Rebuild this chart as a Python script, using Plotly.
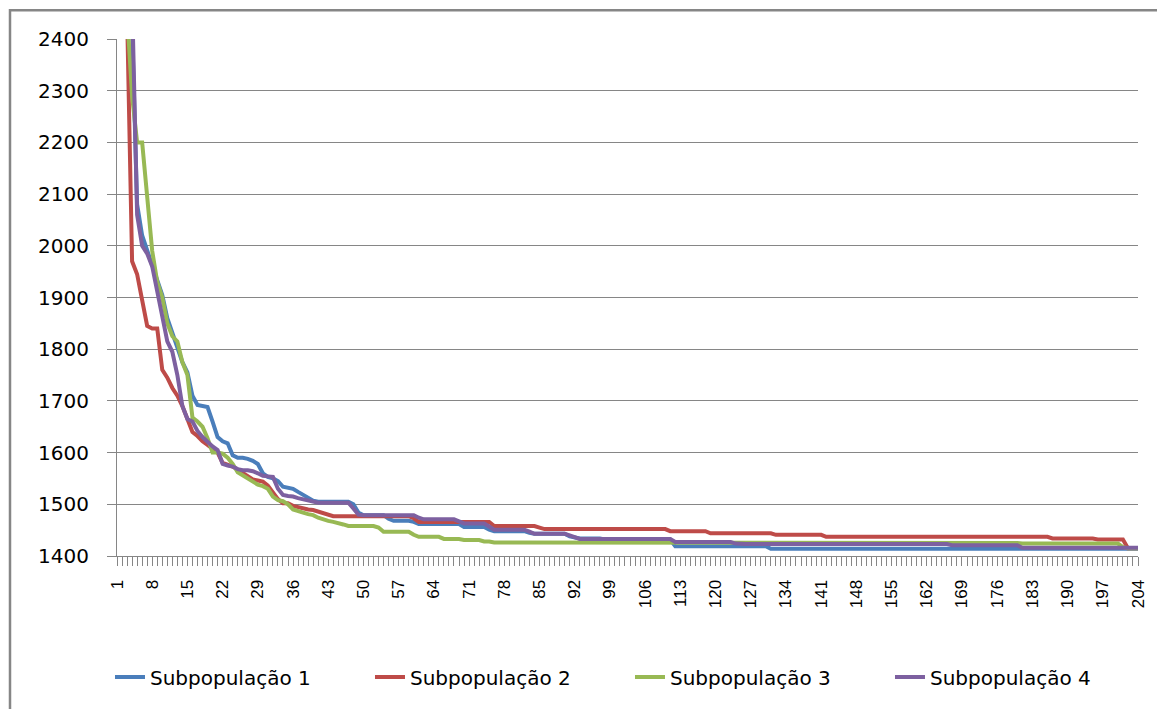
import plotly.graph_objects as go

# geracao (1..204)
geracao = list(range(1, 205))

subpop_1 = [
    3400, 3000, 2600, 2420, 2080, 2020, 1990, 1960, 1930, 1905, 1860, 1830, 1805, 1775, 1755, 1710, 1692, 1690, 1688, 1660,
    1630, 1622, 1618, 1595, 1590, 1590, 1588, 1584, 1578, 1560, 1553, 1550, 1545, 1534, 1532, 1530, 1524, 1518, 1512, 1507,
    1505, 1505, 1505, 1505, 1505, 1505, 1505, 1500, 1484, 1479, 1479, 1479, 1479, 1479, 1472, 1468, 1468, 1468, 1468, 1466,
    1462, 1462, 1462, 1462, 1462, 1462, 1462, 1462, 1462, 1456, 1456, 1456, 1456, 1456, 1451, 1448, 1448, 1448, 1448, 1448,
    1448, 1448, 1445, 1443, 1443, 1443, 1443, 1443, 1443, 1443, 1438, 1436, 1434, 1434, 1434, 1434, 1434, 1432, 1432, 1432,
    1432, 1432, 1432, 1432, 1432, 1432, 1432, 1432, 1432, 1432, 1432, 1419, 1419, 1419, 1419, 1419, 1419, 1419, 1419, 1419,
    1419, 1419, 1419, 1419, 1419, 1419, 1419, 1419, 1419, 1419, 1414, 1414, 1414, 1414, 1414, 1414, 1414, 1414, 1414, 1414,
    1414, 1414, 1414, 1414, 1414, 1414, 1414, 1414, 1414, 1414, 1414, 1414, 1414, 1414, 1414, 1414, 1414, 1414, 1414, 1414,
    1414, 1414, 1414, 1414, 1414, 1414, 1414, 1414, 1414, 1414, 1414, 1414, 1414, 1414, 1414, 1414, 1414, 1414, 1414, 1414,
    1414, 1414, 1414, 1414, 1414, 1414, 1414, 1414, 1414, 1414, 1414, 1414, 1414, 1414, 1414, 1414, 1414, 1414, 1414, 1414,
    1414, 1414, 1414, 1414,
]

subpop_2 = [
    3300, 2900, 2450, 1970, 1945, 1895, 1845, 1840, 1840, 1760, 1745, 1725, 1710, 1690, 1665, 1640, 1632, 1622, 1615, 1607,
    1600, 1580, 1577, 1573, 1567, 1560, 1553, 1548, 1546, 1544, 1536, 1522, 1510, 1502, 1502, 1497, 1494, 1492, 1490, 1489,
    1486, 1484, 1480, 1477, 1477, 1477, 1477, 1477, 1477, 1477, 1477, 1477, 1477, 1477, 1477, 1477, 1477, 1477, 1477, 1473,
    1466, 1466, 1466, 1466, 1466, 1466, 1466, 1466, 1466, 1466, 1466, 1466, 1466, 1466, 1466, 1458, 1458, 1458, 1458, 1458,
    1458, 1458, 1458, 1458, 1455, 1452, 1452, 1452, 1452, 1452, 1452, 1452, 1452, 1452, 1452, 1452, 1452, 1452, 1452, 1452,
    1452, 1452, 1452, 1452, 1452, 1452, 1452, 1452, 1452, 1452, 1448, 1448, 1448, 1448, 1448, 1448, 1448, 1448, 1444, 1444,
    1444, 1444, 1444, 1444, 1444, 1444, 1444, 1444, 1444, 1444, 1444, 1441, 1441, 1441, 1441, 1441, 1441, 1441, 1441, 1441,
    1441, 1437, 1437, 1437, 1437, 1437, 1437, 1437, 1437, 1437, 1437, 1437, 1437, 1437, 1437, 1437, 1437, 1437, 1437, 1437,
    1437, 1437, 1437, 1437, 1437, 1437, 1437, 1437, 1437, 1437, 1437, 1437, 1437, 1437, 1437, 1437, 1437, 1437, 1437, 1437,
    1437, 1437, 1437, 1437, 1437, 1437, 1434, 1434, 1434, 1434, 1434, 1434, 1434, 1434, 1434, 1432, 1432, 1432, 1432, 1432,
    1432, 1415, 1415, 1415,
]

subpop_3 = [
    3200, 2800, 2450, 2290, 2200, 2200, 2090, 1990, 1930, 1900, 1850, 1825, 1815, 1775, 1750, 1668, 1660, 1650, 1628, 1600,
    1600, 1598, 1590, 1578, 1562, 1556, 1550, 1544, 1538, 1535, 1530, 1515, 1508, 1506, 1500, 1490, 1486, 1484, 1481, 1479,
    1474, 1470, 1468, 1466, 1464, 1461, 1458, 1458, 1458, 1458, 1458, 1458, 1455, 1447, 1447, 1447, 1447, 1447, 1447, 1441,
    1437, 1437, 1437, 1437, 1437, 1433, 1433, 1433, 1433, 1431, 1431, 1431, 1431, 1428, 1428, 1426, 1426, 1426, 1426, 1426,
    1426, 1426, 1426, 1426, 1426, 1426, 1426, 1426, 1426, 1426, 1426, 1426, 1426, 1426, 1426, 1426, 1426, 1426, 1426, 1426,
    1426, 1426, 1426, 1426, 1426, 1426, 1426, 1426, 1426, 1426, 1426, 1426, 1426, 1426, 1426, 1426, 1426, 1426, 1426, 1426,
    1426, 1426, 1426, 1426, 1426, 1426, 1426, 1426, 1426, 1426, 1426, 1426, 1426, 1426, 1426, 1426, 1426, 1426, 1426, 1426,
    1426, 1426, 1426, 1426, 1426, 1426, 1425, 1425, 1425, 1425, 1425, 1425, 1425, 1425, 1425, 1425, 1425, 1425, 1425, 1425,
    1425, 1425, 1425, 1425, 1425, 1425, 1425, 1425, 1425, 1425, 1425, 1425, 1425, 1425, 1425, 1425, 1425, 1425, 1425, 1425,
    1424, 1424, 1424, 1424, 1424, 1424, 1424, 1424, 1424, 1424, 1424, 1424, 1424, 1424, 1424, 1424, 1424, 1424, 1424, 1424,
    1417, 1415, 1415, 1415,
]

subpop_4 = [
    3500, 3100, 2800, 2480, 2060, 2000, 1985, 1960, 1910, 1865, 1815, 1795, 1750, 1690, 1665, 1660, 1642, 1630, 1620, 1612,
    1605, 1578, 1575, 1573, 1568, 1566, 1566, 1564, 1560, 1555, 1554, 1553, 1530, 1518, 1516, 1515, 1512, 1510, 1507, 1505,
    1503, 1503, 1503, 1503, 1503, 1503, 1503, 1492, 1480, 1479, 1479, 1479, 1479, 1479, 1479, 1479, 1479, 1479, 1479, 1479,
    1474, 1471, 1471, 1471, 1471, 1471, 1471, 1471, 1467, 1463, 1463, 1463, 1463, 1463, 1457, 1451, 1451, 1451, 1451, 1451,
    1451, 1451, 1447, 1443, 1443, 1443, 1443, 1443, 1443, 1443, 1440, 1437, 1433, 1433, 1433, 1433, 1433, 1433, 1433, 1433,
    1433, 1433, 1433, 1433, 1433, 1433, 1433, 1433, 1433, 1433, 1433, 1427, 1427, 1427, 1427, 1427, 1427, 1427, 1427, 1427,
    1427, 1427, 1427, 1424, 1423, 1423, 1423, 1423, 1423, 1423, 1423, 1423, 1423, 1423, 1423, 1423, 1423, 1423, 1423, 1423,
    1423, 1423, 1423, 1423, 1423, 1423, 1423, 1423, 1423, 1423, 1423, 1423, 1423, 1423, 1423, 1423, 1423, 1423, 1423, 1423,
    1423, 1423, 1423, 1423, 1423, 1423, 1421, 1421, 1421, 1421, 1421, 1421, 1421, 1421, 1421, 1421, 1421, 1421, 1421, 1421,
    1416, 1416, 1416, 1416, 1416, 1416, 1416, 1416, 1416, 1416, 1416, 1416, 1416, 1416, 1416, 1416, 1416, 1416, 1416, 1416,
    1416, 1416, 1416, 1416,
]

nomes = ["Subpopulação 1", "Subpopulação 2", "Subpopulação 3", "Subpopulação 4"]
cores = ["#4A7EBB", "#BE4B48", "#98B954", "#7D60A0"]
GRAY = "#868686"

fig = go.Figure()
for nome, vals, cor in zip(nomes, [subpop_1, subpop_2, subpop_3, subpop_4], cores):
    fig.add_trace(go.Scatter(x=geracao, y=vals, mode="lines", name=nome,
                             line=dict(color=cor, width=4)))

fig.update_xaxes(range=[1, 204], tickmode="linear", tick0=1, dtick=7, tickangle=-90,
                 ticks="outside", ticklen=9, tickcolor=GRAY, showline=True, linecolor=GRAY,
                 showgrid=False, zeroline=False, ticklabelstandoff=7,
                 tickfont=dict(family="Liberation Sans", size=17, color="black"),
                 minor=dict(tick0=1, dtick=1, ticks="outside", ticklen=9, tickcolor=GRAY, showgrid=False))
fig.update_yaxes(range=[1400, 2400], tickmode="linear", tick0=1400, dtick=100,
                 ticks="outside", ticklen=9, tickcolor=GRAY, showline=True, linecolor=GRAY,
                 showgrid=True, gridcolor=GRAY, gridwidth=1, zeroline=False, ticklabelstandoff=14,
                 tickfont=dict(family="DejaVu Sans", size=20, color="black"))

# moldura do grafico (so as bordas esquerda e superior ficam visiveis)
fig.add_shape(type="rect", xref="paper", yref="paper", x0=-0.1048, y0=-0.33, x1=1.05, y1=1.0555,
              line=dict(color=GRAY, width=2.5), layer="below")

# a pagina tem margem de 8px no body
fig.update_layout(
    width=1157, height=701,
    margin=dict(l=109, r=27, t=31, b=153, autoexpand=False),
    plot_bgcolor="white", paper_bgcolor="white",
    showlegend=True,
    legend=dict(orientation="h", x=-0.00686, xanchor="left", y=-0.234, yanchor="middle",
                entrywidth=215, entrywidthmode="pixels",
                font=dict(family="DejaVu Sans", size=20, color="black")),
)

fig.write_html("out.html")
